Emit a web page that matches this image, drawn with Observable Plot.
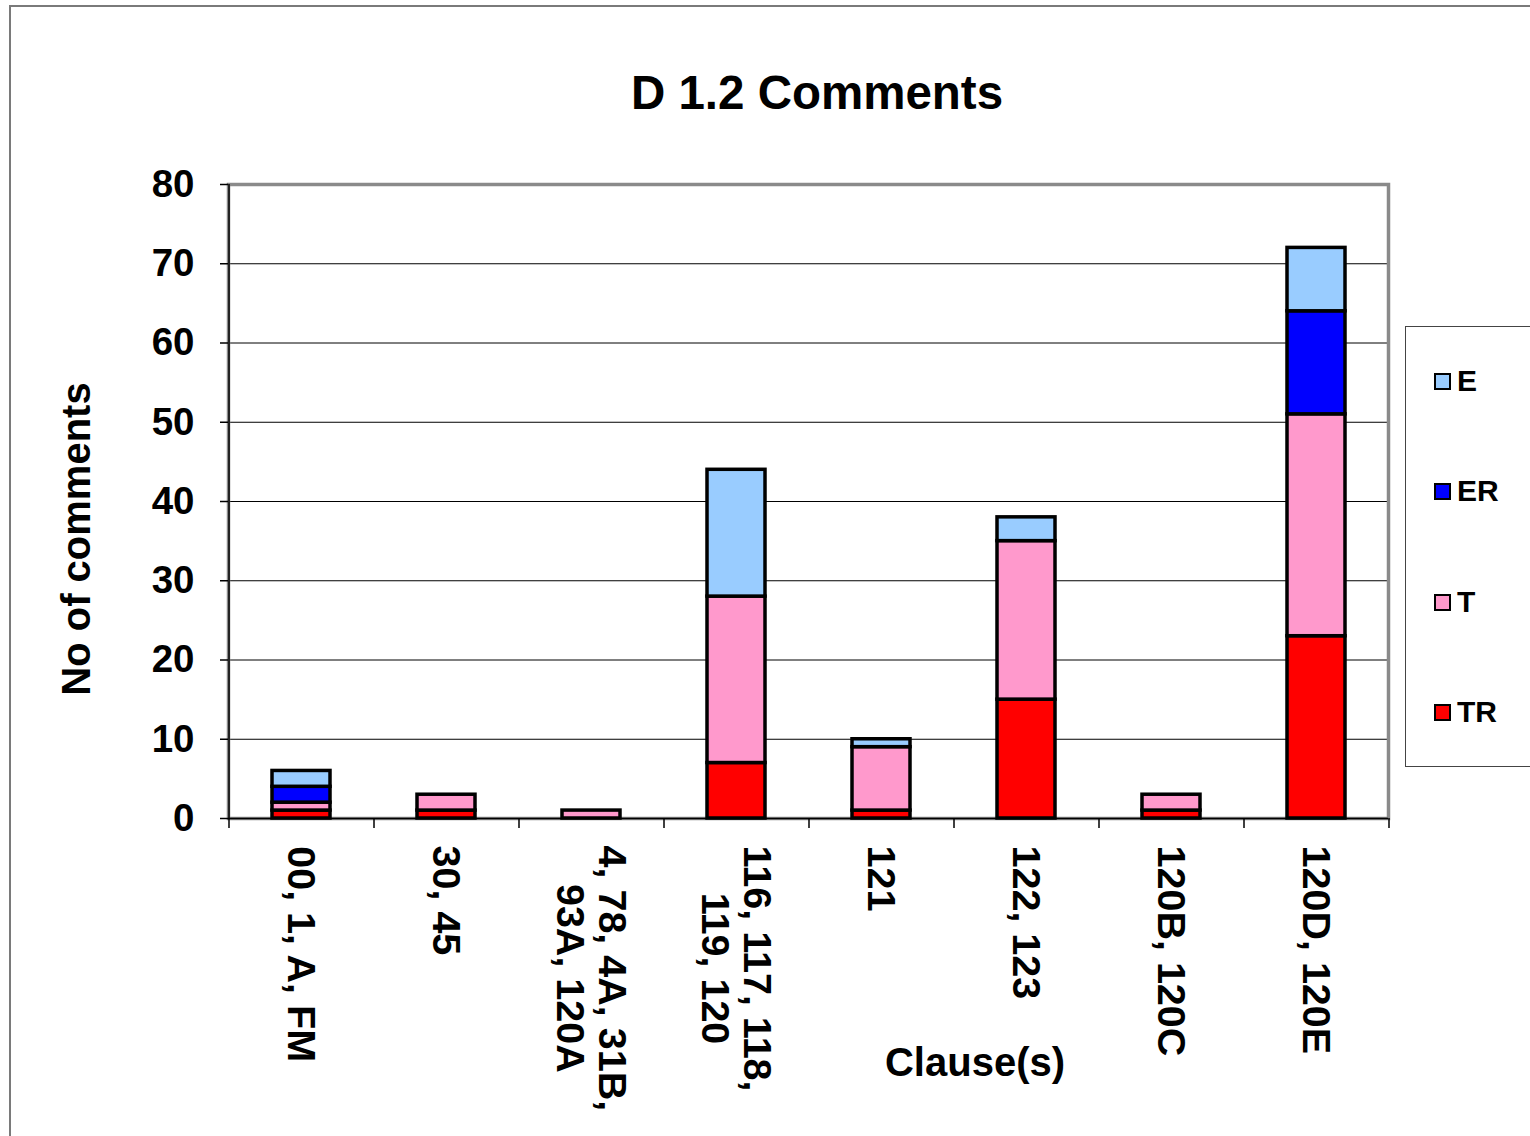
<!DOCTYPE html>
<html>
<head>
<meta charset="utf-8">
<script src="https://cdn.jsdelivr.net/npm/d3@7"></script>
<script src="https://cdn.jsdelivr.net/npm/@observablehq/plot@0.6"></script>
<style>
  html, body { margin: 0; padding: 0; background: #fff; }
  #wrap { position: relative; width: 1530px; height: 1136px; overflow: hidden; font-family: "Liberation Sans", Arial, sans-serif; font-weight: bold; color: #000; }
  #outer { position: absolute; left: 9px; top: 5px; width: 1600px; height: 1200px; border: 2px solid #7a7a7a; box-sizing: border-box; }
  #chart { position: absolute; left: 0; top: 0; }
  .lbl { position: absolute; white-space: nowrap; transform-origin: center center; }
  #legend { position: absolute; left: 1405px; top: 326px; width: 130px; height: 441px; border: 1px solid #444; box-sizing: border-box; background: #fff; }
  .item { position: absolute; left: 28px; font-size: 30px; display: flex; align-items: center; transform: translateY(-50%); }
  .sw { width: 13px; height: 13px; border: 2.5px solid #000; margin-right: 6px; }
</style>
</head>
<body>
<div id="wrap">
  <div id="outer"></div>
  <div id="chart"></div>
</div>
<script>
const categories = ["00, 1, A, FM", "30, 45", "4, 78, 4A, 31B,\n93A, 120A", "116, 117, 118,\n119, 120", "121", "122, 123", "120B, 120C", "120D, 120E"];
const seriesNames = ["TR", "T", "ER", "E"];
const TR = [1, 1, 0, 7, 1, 15, 1, 23];
const T  = [1, 2, 1, 21, 8, 20, 2, 28];
const ER = [2, 0, 0, 0, 0, 0, 0, 13];
const E  = [2, 0, 0, 16, 1, 3, 0, 8];
const colors = {TR: "#FF0000", T: "#FF99CC", ER: "#0000FF", E: "#99CCFF"};
const yTicks = [0, 10, 20, 30, 40, 50, 60, 70, 80];
const title = "D 1.2 Comments";
const yLabel = "No of comments";
const xLabel = "Clause(s)";

const valuesBySeries = {TR, T, ER, E};
const rows = [];
for (const s of seriesNames) {
  categories.forEach((c, i) => rows.push({clause: c, series: s, value: valuesBySeries[s][i]}));
}
const nonZero = rows.filter(d => d.value > 0);

const W = 1530, H = 1136;
const mL = 228, mR = 142, mT = 184, mB = 318;
const step = (W - mL - mR) / categories.length;
const font = '"Liberation Sans", Arial, sans-serif';
const xFont = 39.5;

// measure widest line of each category label so lines can be centered within a start-anchored block
const ctx = document.createElement("canvas").getContext("2d");
ctx.font = `bold ${xFont}px "Liberation Sans", Arial, sans-serif`;
const maxLineWidth = c => Math.max(...c.split("\n").map(l => ctx.measureText(l).width));

const xLabelMarks = categories.map(c => Plot.text([c], {
  x: d => d, frameAnchor: "bottom", rotate: 90,
  textAnchor: "middle", lineAnchor: "middle", lineHeight: 1.08,
  dy: 27 + maxLineWidth(c) / 2,
  fontSize: xFont, fontWeight: "bold", fill: "#000"
}));

const chart = Plot.plot({
  width: W, height: H,
  marginLeft: mL, marginRight: mR, marginTop: mT, marginBottom: mB,
  style: {fontFamily: font, fontWeight: "bold", fontSize: "38px", background: "transparent", color: "#000", overflow: "visible"},
  x: {domain: categories, paddingInner: 0.6, paddingOuter: 0.3, label: null, axis: null},
  y: {domain: [0, 80], label: null},
  color: {domain: seriesNames, range: seriesNames.map(s => colors[s])},
  marks: [
    Plot.gridY(yTicks.filter(t => t > 0 && t < 80), {stroke: "#000", strokeOpacity: 1, strokeWidth: 1}),
    Plot.frame({stroke: "#8a8a8a", strokeWidth: 3.5}),
    Plot.ruleX([categories[0]], {dx: -step / 2, stroke: "#000", strokeWidth: 1.5}),
    Plot.ruleY([0], {stroke: "#000", strokeWidth: 1.5}),
    Plot.barY(nonZero, Plot.stackY({
      x: "clause", y: "value", fill: "series", z: "series",
      order: seriesNames,
      stroke: "#000", strokeWidth: 3.5
    })),
    Plot.axisY({ticks: yTicks, tickSize: 8, tickPadding: 26, fontSize: 38.5, fontWeight: "bold", stroke: "#000", strokeWidth: 1.5}),
    Plot.axisX({tickSize: 10, tickFormat: null, dx: -step / 2, stroke: "#000", strokeWidth: 1.5}),
    Plot.axisX([categories[categories.length - 1]], {tickSize: 10, tickFormat: null, dx: step / 2, stroke: "#000", strokeWidth: 1.5}),
    ...xLabelMarks
  ]
});
document.getElementById("chart").appendChild(chart);

const wrap = document.getElementById("wrap");
function addLabel(text, cx, cy, size, rot) {
  const el = document.createElement("div");
  el.className = "lbl";
  el.textContent = text;
  el.style.fontSize = size + "px";
  el.style.left = cx + "px";
  el.style.top = cy + "px";
  el.style.transform = `translate(-50%, -50%) rotate(${rot}deg)`;
  wrap.appendChild(el);
}
addLabel(title, 817, 92, 47.5, 0);
addLabel(yLabel, 76, 539, 40, -90);
addLabel(xLabel, 975, 1062, 40, 0);

const legend = document.createElement("div");
legend.id = "legend";
const legendY = [380, 490, 601, 711];
["E", "ER", "T", "TR"].forEach((s, i) => {
  const it = document.createElement("div");
  it.className = "item";
  it.style.top = (legendY[i] - 326) + "px";
  const sw = document.createElement("div");
  sw.className = "sw";
  sw.style.background = colors[s];
  const tx = document.createElement("span");
  tx.textContent = s;
  it.appendChild(sw); it.appendChild(tx);
  legend.appendChild(it);
});
wrap.appendChild(legend);
</script>
</body>
</html>
